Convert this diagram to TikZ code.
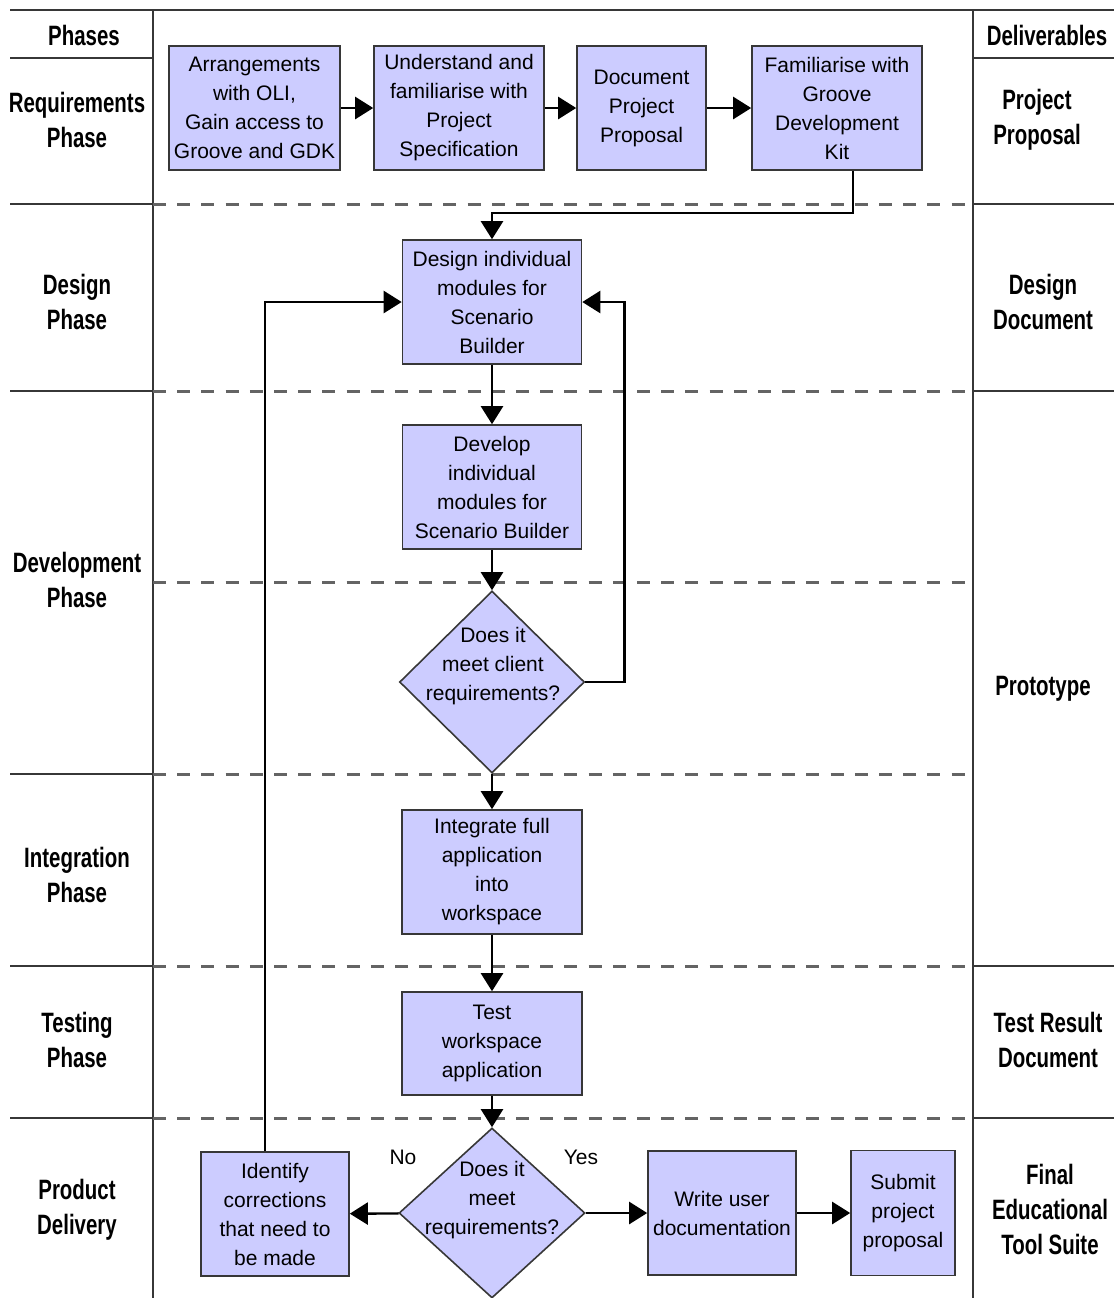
\documentclass[tikz,border=0pt]{standalone}
\usepackage{fontspec}
\setmainfont{Liberation Sans}
\newfontfamily\phasefont[FakeStretch=0.73]{Liberation Sans}
\usepackage{tikz}
\usetikzlibrary{shapes.geometric, arrows.meta, positioning, calc}
\definecolor{boxblue}{RGB}{204,204,255}
\definecolor{lineclr}{RGB}{55,55,55}
\definecolor{laneclr}{RGB}{100,100,100}
\tikzstyle{process} = [rectangle, draw=lineclr, line width=0.8pt, fill=boxblue, minimum height=62pt, inner sep=0pt, align=center]
\tikzstyle{decision} = [diamond, draw=lineclr, line width=0.8pt, fill=boxblue, inner sep=0pt]
\tikzstyle{dtext} = [align=center, inner sep=0pt]
\tikzstyle{arrow} = [line width=1.2pt, -{Triangle[length=9pt,width=11pt]}]
\tikzstyle{phase} = [align=center, font=\phasefont\bfseries\fontsize{14}{17.5}\selectfont]
\tikzstyle{gridline} = [draw=lineclr, line width=1.2pt]
\tikzstyle{lane} = [draw=laneclr, line width=1.5pt, dash pattern=on 6.5pt off 5.6pt]

\begin{document}
\begin{tikzpicture}[x=0.5pt, y=-0.5pt, font=\fontsize{10.5}{14.5}\selectfont]
    \useasboundingbox (0,0) rectangle (1114,1298);
    % table frame
    \draw[gridline] (10,10) -- (1114,10);
    \draw[gridline] (153,10) -- (153,1298);
    \draw[gridline] (973,10) -- (973,1298);
    \draw[gridline] (10,58) -- (153,58) (973,58) -- (1114,58);
    \foreach \y in {204,391,774,966,1118} \draw[gridline] (10,\y) -- (153,\y);
    \foreach \y in {204,391,966,1118} \draw[gridline] (973,\y) -- (1114,\y);
    \foreach \y in {204,391,582,774,966,1118} \draw[lane] (153,\y) -- (973,\y);

    % phases
    \node[phase] (phases) at (84,35) {Phases};
    \node[phase] (reqph) at (77,120) {Requirements\\Phase};
    \node[phase] (desph) at (77,302) {Design\\Phase};
    \node[phase] (devph) at (77,580) {Development\\Phase};
    \node[phase] (intph) at (77,875) {Integration\\Phase};
    \node[phase] (testph) at (77,1040) {Testing\\Phase};
    \node[phase] (delph) at (77,1210) {Product\\Delivery};

    % deliverables
    \node[phase] (deliv) at (1047,35) {Deliverables};
    \node[phase] (propdoc) at (1037,120) {Project\\Proposal};
    \node[phase] (desdoc) at (1043,302) {Design\\Document};
    \node[phase] (proto) at (1043,689) {Prototype};
    \node[phase] (testdoc) at (1048,1040) {Test Result\\Document};
    \node[phase] (suite) at (1050,1209) {Final\\Educational\\Tool Suite};

    % requirements row
    \node[process, minimum width=85.5pt] (arrange) at (254.5,108) {Arrangements\\with OLI,\\Gain access to\\Groove and GDK};
    \node[process, minimum width=85pt] (understand) at (459,108) {Understand and\\familiarise with\\Project\\Specification};
    \node[process, minimum width=64.5pt] (proposal) at (641.5,108) {Document\\Project\\Proposal};
    \node[process, minimum width=85pt] (familiar) at (837,108) {Familiarise with\\Groove\\Development\\Kit};

    % main column
    \node[process, minimum width=89.5pt] (design) at (492,302) {Design individual\\modules for\\Scenario\\Builder};
    \node[process, minimum width=89.5pt] (develop) at (492,487) {Develop\\individual\\modules for\\Scenario Builder};
    \node[decision, minimum width=92.5pt, minimum height=91pt] (check1) at (492,682) {};
    \node[dtext] (check1txt) at (493,666) {Does it\\meet client\\requirements?};
    \node[process, minimum width=90pt] (integrate) at (492,872) {Integrate full\\application\\into\\workspace};
    \node[process, minimum width=90pt, minimum height=51.5pt] (test) at (492,1043.5) {Test\\workspace\\application};
    \node[decision, minimum width=93pt, minimum height=85pt] (check2) at (492,1213) {};
    \node[dtext] (check2txt) at (492,1200) {Does it\\meet\\requirements?};

    % delivery row
    \node[process, minimum width=74pt] (identify) at (275,1214) {Identify\\corrections\\that need to\\be made};
    \node[process, minimum width=74pt] (userdoc) at (722,1213) {Write user\\documentation};
    \node[process, minimum width=52pt, minimum height=62.5pt] (submit) at (903,1213) {Submit\\project\\proposal};
    \node (no) at (403,1157) {No};
    \node (yes) at (581,1157) {Yes};

    \draw[arrow] (arrange) -- (understand);
    \draw[arrow] (understand) -- (proposal);
    \draw[arrow] (proposal) -- (familiar);
    \draw[arrow] ([xshift=8pt]familiar.south) -- ++(0,42) -| (design.north);
    \draw[arrow] (design) -- (develop);
    \draw[arrow] (develop) -- (check1);
    \draw[arrow] (check1.east) -- ++(39,0) |- (design.east);
    \draw[arrow] (check1) -- (integrate);
    \draw[arrow] (integrate) -- (test);
    \draw[arrow] (test) -- (check2);
    \draw[arrow] (check2) -- (identify);
    \draw[arrow] (check2) -- (userdoc);
    \draw[arrow] (userdoc) -- (submit);
    \draw[arrow] ([xshift=-5pt]identify.north) |- (design.west);
\end{tikzpicture}
\end{document}
